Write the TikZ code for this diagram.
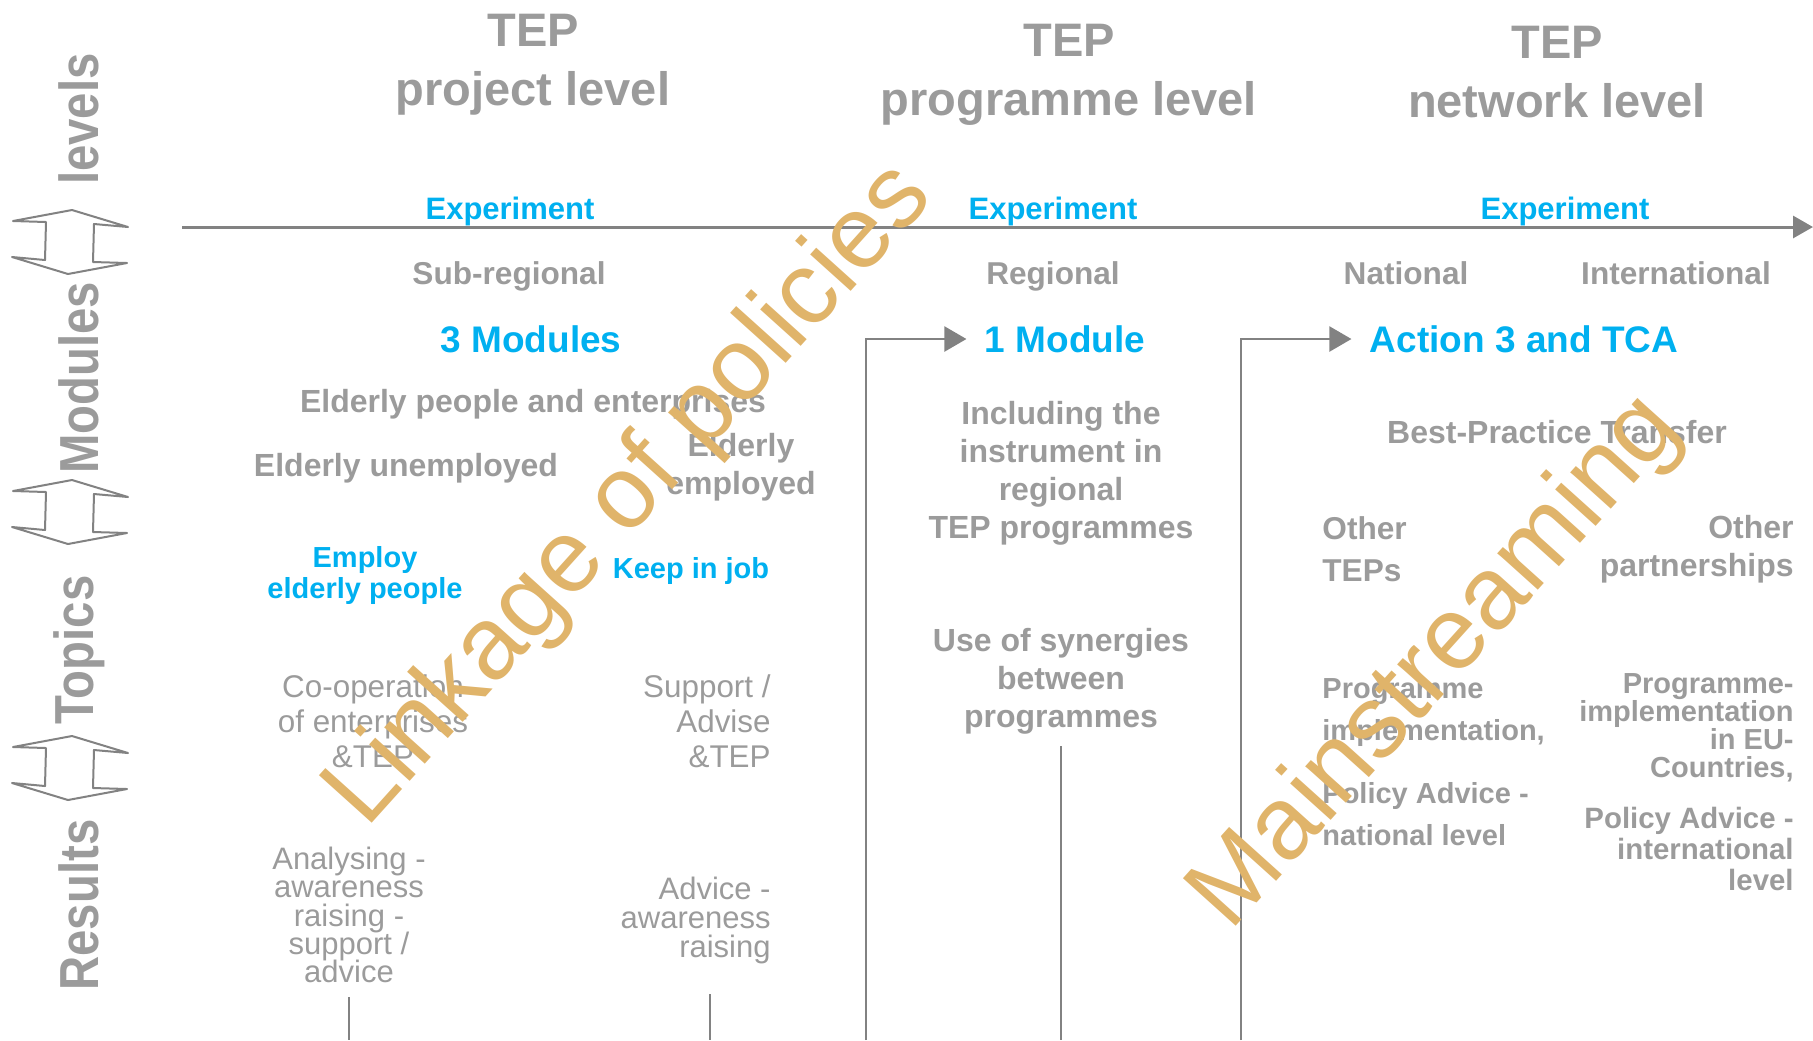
\documentclass[tikz,border=0pt]{standalone}
\usepackage{fontspec}
\setmainfont{Liberation Sans}
\newfontfamily\narrowsans[FakeStretch=0.86]{Liberation Sans}
\usepackage{tikz}
\usepackage{xcolor}
\usetikzlibrary{arrows.meta}
\definecolor{txtgrey}{RGB}{155,155,155}
\definecolor{linegrey}{RGB}{130,130,130}
\definecolor{tepblue}{RGB}{0,176,240}
\definecolor{wmarkcol}{RGB}{224,180,106}
\lineskiplimit=-100pt

\begin{document}
\begin{tikzpicture}[x=0.5pt,y=-0.5pt,inner sep=0pt,
		title node/.style = {align=center,text=txtgrey,font=\fontsize{23.5}{29.5}\selectfont\bfseries},
		side node/.style = {rotate=90,text=txtgrey,font=\narrowsans\fontsize{27.5}{30}\selectfont\bfseries},
		exp node/.style = {text=tepblue,font=\fontsize{15.5}{18}\selectfont\bfseries},
		scope node/.style = {anchor=base,text=txtgrey,font=\fontsize{15.8}{18}\selectfont\bfseries},
		module node/.style = {text=tepblue,inner sep=1pt,font=\fontsize{18.5}{22}\selectfont\bfseries},
		item node/.style = {text=txtgrey,font=\fontsize{16}{19}\selectfont\bfseries},
		goal node/.style = {align=center,text=tepblue,font=\fontsize{14.5}{15.5}\selectfont\bfseries},
		plain node/.style = {text=txtgrey,font=\fontsize{15.7}{17.5}\selectfont},
		result node/.style = {text=txtgrey,font=\fontsize{15.5}{14.2}\selectfont},
		small node/.style = {text=txtgrey,font=\fontsize{14.5}{21}\selectfont\bfseries},
		wmark node/.style = {rotate=48,text=wmarkcol,font=\fontsize{51.6}{56}\selectfont},
		axis/.style = {draw=linegrey,line width=1.5pt,-{Triangle[length=10pt,width=11pt]}},
		conn/.style = {draw=linegrey,line width=1.1pt,shorten >=8pt,-{Triangle[length=11pt,width=12.5pt]}},
		stem/.style = {draw=linegrey,line width=0.8pt},
		dblarrow/.style = {draw=linegrey,line width=1pt,line join=round,fill=white}]
			\useasboundingbox (0,0) rectangle (1813,1040);
			\node[title node] at (533,65) (tproj) {TEP\\project level};
			\node[title node] at (1069,75) (tprog) {TEP\\programme level};
			\node[title node] at (1557,72) (tnet) {TEP\\network level};
			\foreach \y in {242,512,768}
				\draw[dblarrow] (70,\y) ++(2,-32) -- ++(-59,11) -- ++(33,1) -- ++(-1,38) -- ++(-33,-3) -- ++(56,17) -- ++(59,-11) -- ++(-34,-1) -- ++(1,-38) -- ++(34,3) -- cycle;
			\node[side node] at (79,119) (lev) {levels};
			\node[side node] at (79,378) (modl) {Modules};
			\node[side node] at (79,650) (top) {Topics};
			\node[side node] at (79,905) (res) {Results};
			\coordinate (tl0) at (182,227);
			\coordinate (tl1) at (1813,227);
			\draw[axis] (tl0) -- (tl1);
			\node[exp node] at (510,211) (exp1) {Experiment};
			\node[exp node] at (1053,211) (exp2) {Experiment};
			\node[exp node] at (1565,211) (exp3) {Experiment};
			\node[scope node] at (509,284) (sub) {Sub-regional};
			\node[scope node] at (1053,284) (reg) {Regional};
			\node[scope node] at (1406,284) (nat) {National};
			\node[scope node] at (1676,284) (intl) {International};
			\node[module node] at (531,339) (mod3) {3 Modules};
			\node[module node] at (1065,339) (mod1) {1 Module};
			\node[module node] at (1524,339) (act) {Action 3 and TCA};
			\coordinate (cA) at (866,1040);
			\coordinate (cB) at (1241,1040);
			\draw[conn] (cA) |- (mod1);
			\draw[conn] (cB) |- (act);
			\node[item node] at (533,404) (eldall) {Elderly people and enterprises};
			\node[item node] at (406,468) (eldun) {Elderly unemployed};
			\node[item node,align=center] at (741,467) (eldem) {Elderly\\employed};
			\node[goal node] at (365,575) (employ) {Employ\\elderly people};
			\node[goal node] at (691,571) (keep) {Keep in job};
			\node[plain node,align=center] at (373,721) (coop) {Co-operation\\of enterprises\\\&TEP};
			\node[plain node,align=right,anchor=east] at (771,721) (supp) {Support /\\Advise\\\&TEP};
			\node[result node,align=center] at (349,915) (analys) {Analysing -\\awareness\\raising -\\support /\\advice};
			\node[result node,align=right,anchor=east,font=\fontsize{15.5}{14.5}\selectfont] at (771,920) (advice) {Advice -\\awareness\\raising};
			\coordinate (s1) at (349,997);
			\coordinate (s2) at (710,994);
			\draw[stem] (s1) -- (s1 |- cA);
			\draw[stem] (s2) -- (s2 |- cA);
			\node[item node,align=center] at (1061,473) (incl) {Including the\\instrument in\\regional\\TEP programmes};
			\node[item node,align=center] at (1061,681) (syn) {Use of synergies\\between\\programmes};
			\coordinate (s3) at (1061,746);
			\draw[stem] (s3) -- (s3 |- cA);
			\node[item node] at (1557,432) (best) {Best-Practice Transfer};
			\node[item node,align=left,anchor=west,font=\fontsize{15.8}{21}\selectfont\bfseries] at (1322,549) (othtep) {Other\\TEPs};
			\node[item node,align=right,anchor=east] at (1794,549) (othpart) {Other\\partnerships};
			\node[small node,align=left,anchor=west] at (1322,713) (progimp) {Programme\\implementation,};
			\node[small node,align=left,anchor=west] at (1322,814) (polnat) {Policy Advice -\\national level};
			\node[small node,align=right,anchor=east,font=\fontsize{14.5}{14}\selectfont\bfseries] at (1794,728) (progeu) {Programme-\\implementation\\in EU-\\Countries,};
			\node[small node,align=right,anchor=east,font=\fontsize{14.7}{15.5}\selectfont\bfseries] at (1794,849) (polint) {Policy Advice -\\international\\level};
			\node[wmark node] at (631,496) (wlink) {Linkage of policies};
			\node[wmark node] at (1437,663) (wmain) {Mainstreaming};
		\end{tikzpicture}
\end{document}
